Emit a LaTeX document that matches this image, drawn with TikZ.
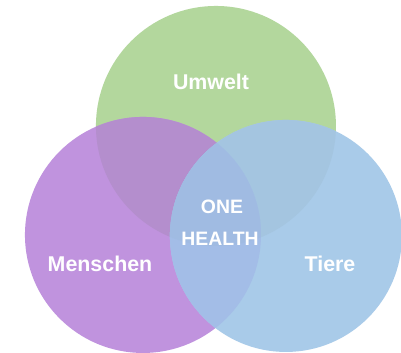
\documentclass[tikz,border=0pt]{standalone}
\usepackage{fontspec}
\setmainfont{Liberation Sans}
\usetikzlibrary{calc}
\definecolor{umweltgreen}{HTML}{B3D79D}
\definecolor{menschpurple}{HTML}{C093DE}
\definecolor{tierblue}{HTML}{A9CBE9}
\definecolor{mixpg}{HTML}{B48ECD}
\definecolor{mixbg}{HTML}{A4C5E0}
\definecolor{mixbp}{HTML}{A3BDE7}
\definecolor{mixall}{HTML}{A0BBE2}
\tikzset{
	label/.style={text=white, font=\bfseries\fontsize{15.2}{18}\selectfont},
	core/.style={text=white, font=\bfseries\fontsize{13.8}{16}\selectfont},
}

\begin{document}
\begin{tikzpicture}[scale=0.025, yscale=-1]
\fill[white] (0,0) rectangle (401,352);
\useasboundingbox (0,0) rectangle (401,352);
\coordinate (U) at (216,126);
\coordinate (M) at (143,235);
\coordinate (T) at (286,236);
\fill[umweltgreen] (U) circle (120);
\fill[menschpurple] (M) circle (118);
\fill[tierblue] (T) circle (116);
% overlaps
\begin{scope}
\clip (U) circle (120);
\fill[mixpg] (M) circle (118);
\fill[mixbg] (T) circle (116);
\end{scope}
\begin{scope}
\clip (M) circle (118);
\fill[mixbp] (T) circle (116);
\clip (U) circle (120);
\fill[mixall] (T) circle (116);
\end{scope}
\node[label] (umwelt) at (211,82) {Umwelt};
\node[label] (menschen) at (100,264) {Menschen};
\node[label] (tiere) at (330,264) {Tiere};
\node[core] (one) at (222,207) {ONE};
\node[core] (health) at (220,239) {HEALTH};
\end{tikzpicture}
\end{document}
